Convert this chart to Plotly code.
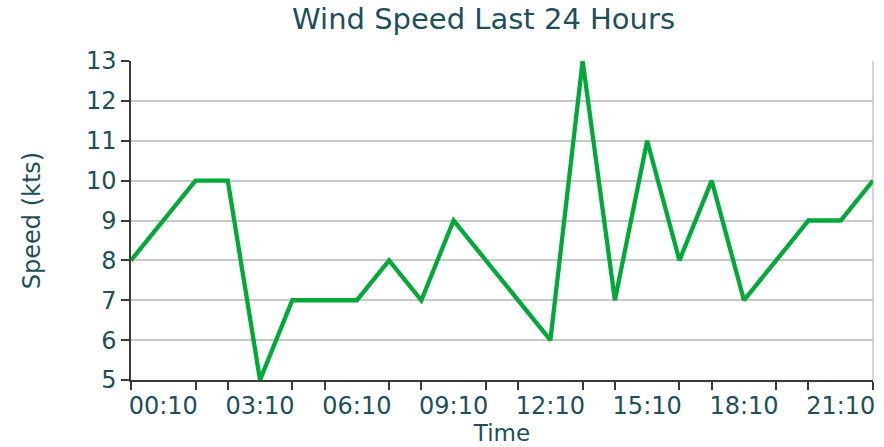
import plotly.graph_objects as go

times = ["2024-01-01 23:10"] + [f"2024-01-02 {h:02d}:10" for h in range(23)]
speeds = [8, 9, 10, 10, 5, 7, 7, 7, 8, 7, 9, 8, 7, 6, 13, 7, 11, 8, 10, 7, 8, 9, 9, 10]
y_ticks = [5, 6, 7, 8, 9, 10, 11, 12, 13]

TEXT = "#1f4f59"
FONT = "DejaVu Sans"

fig = go.Figure(go.Scatter(
    x=times, y=speeds, mode="lines",
    line=dict(color="#00a83a", width=4.3),
    cliponaxis=False, hoverinfo="skip",
))

fig.update_layout(
    width=884, height=447,
    margin=dict(l=131, r=11, t=61, b=67),
    paper_bgcolor="white", plot_bgcolor="white",
    showlegend=False,
    font=dict(family=FONT, color=TEXT, size=24),
    title=dict(text="Wind Speed Last 24 Hours", x=0.547, xanchor="center",
               y=0.957, yanchor="middle", font=dict(size=29, color=TEXT, family=FONT)),
    xaxis=dict(
        type="date", range=[times[0], times[-1]], automargin=False,
        tick0="2024-01-02 00:10", dtick=3 * 3600 * 1000, tickformat="%H:%M",
        ticks="", showgrid=False, zeroline=False, ticklabelstandoff=3,
        showline=True, linecolor="#3a3a3a", linewidth=1.5,
        tickfont=dict(size=24, color=TEXT),
        minor=dict(ticks="outside", dtick=3600 * 1000, tick0=times[0],
                   ticklen=8, tickcolor="#3a3a3a", tickwidth=1.5, showgrid=False),
        title=dict(text="Time", standoff=2, font=dict(size=23, color=TEXT)),
    ),
    yaxis=dict(
        range=[5, 13], tickvals=y_ticks, automargin=False,
        ticks="outside", ticklen=8, tickcolor="#3a3a3a", tickwidth=1.5,
        showgrid=True, gridcolor="#c8c8c8", gridwidth=1.5, zeroline=False,
        showline=True, linecolor="#3a3a3a", linewidth=1.5,
        tickfont=dict(size=24, color=TEXT),
        title=dict(text="Speed (kts)", standoff=39, font=dict(size=24, color=TEXT)),
    ),
    shapes=[dict(type="line", xref="paper", yref="paper", x0=1, x1=1, y0=0, y1=1,
                 line=dict(color="#c8c8c8", width=1.5), layer="below")],
)

fig.write_html("out.html", config={"displayModeBar": False},
               post_script="document.body.style.margin='0';document.body.style.padding='0';")
